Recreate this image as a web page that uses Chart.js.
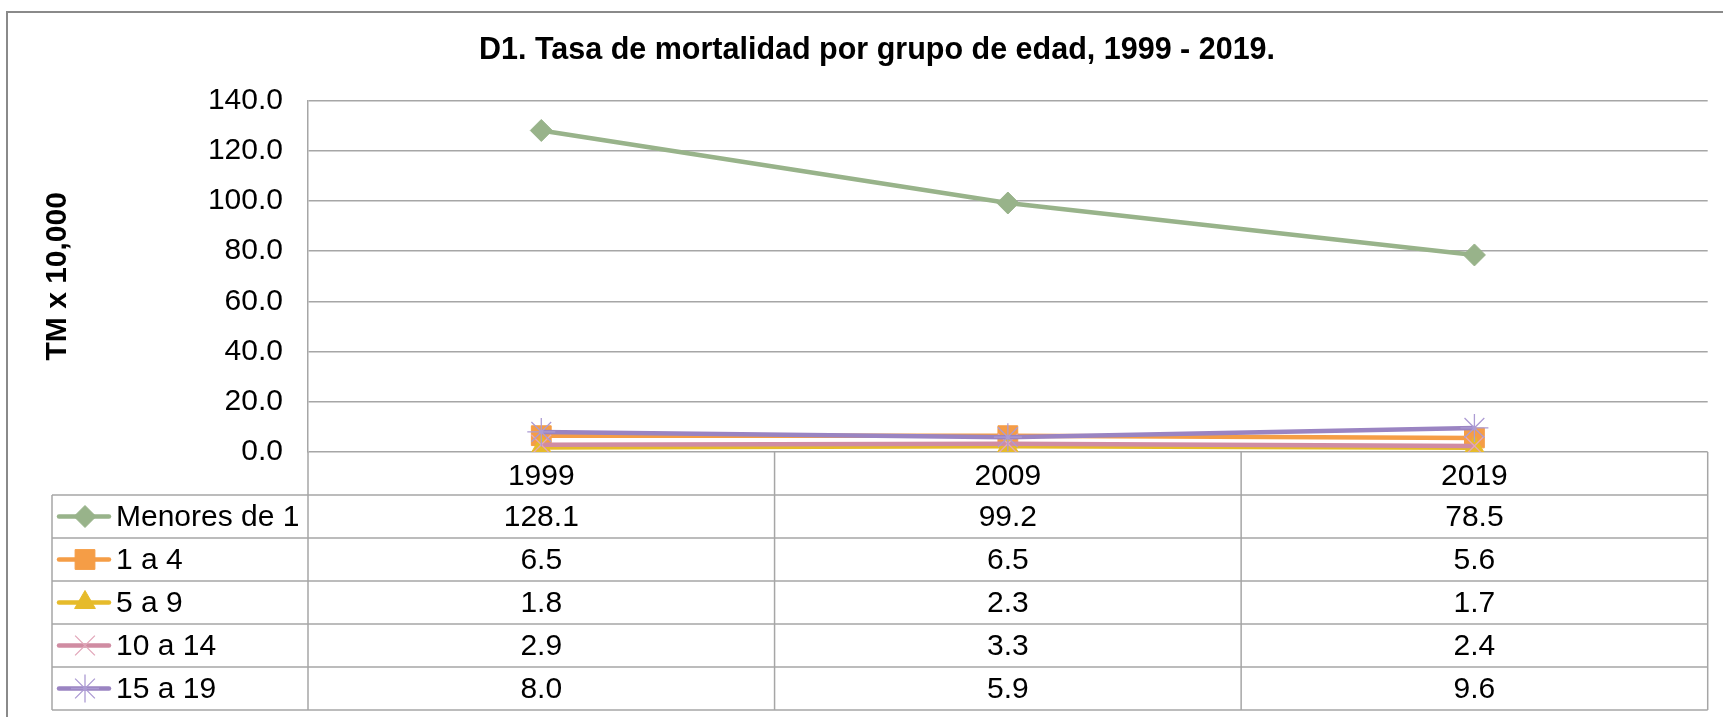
<!DOCTYPE html>
<html lang="es">
<head>
<meta charset="utf-8">
<title>D1. Tasa de mortalidad por grupo de edad, 1999 - 2019.</title>
<script src="https://cdn.jsdelivr.net/npm/chart.js@4.4.1/dist/chart.umd.min.js"></script>
<style>
  html, body { margin: 0; padding: 0; background: #fff; }
  #wrap { width: 1723px; height: 717px; }
</style>
</head>
<body>
<div id="wrap"><canvas id="chart" width="1723" height="717"></canvas></div>
<script>
// Datos
const years = ["1999", "2009", "2019"];
const groupLabels = ["Menores de 1", "1 a 4", "5 a 9", "10 a 14", "15 a 19"];
const menores1 = [128.1, 99.2, 78.5];
const de1a4 = [6.5, 6.5, 5.6];
const de5a9 = [1.8, 2.3, 1.7];
const de10a14 = [2.9, 3.3, 2.4];
const de15a19 = [8.0, 5.9, 9.6];
const yTicks = [0, 20, 40, 60, 80, 100, 120, 140];

// Estilos
const FONT = "'Liberation Sans', Arial, Helvetica, sans-serif";
const seriesValues = [menores1, de1a4, de5a9, de10a14, de15a19];
const lineColors = ["#98b38a", "#f59d46", "#e6bb2b", "#d08ca2", "#9a84c2"];
const markerColors = ["#98b38a", "#f59d46", "#e6bb2b", "#e2a7ba", "#ac9bd3"];
const pointStyles = ["rectRot", "rect", "triangle", "crossRot", "star"];
const pointSizes = [11, 14, 12, 14, 14];
const gridColor = "#a6a6a6";
const ROW_H = 43;
const TABLE_LEFT = 52;

Chart.defaults.font.family = FONT;
Chart.defaults.color = "#000";

// Series
const datasets = groupLabels.map((label, i) => {
  const filled = pointStyles[i] !== "crossRot" && pointStyles[i] !== "star";
  return {
    label: label,
    data: seriesValues[i],
    borderColor: lineColors[i],
    backgroundColor: markerColors[i],
    borderWidth: 4.5,
    pointStyle: pointStyles[i],
    pointRadius: pointSizes[i],
    pointHoverRadius: pointSizes[i],
    pointBackgroundColor: markerColors[i],
    pointBorderColor: markerColors[i],
    pointBorderWidth: filled ? 1 : 1.3,
    tension: 0,
    order: groupLabels.length - i,
  };
});

// Dibuja un marcador de leyenda
function drawMarker(ctx, ds, x, y) {
  ctx.save();
  ctx.fillStyle = ds.pointBackgroundColor;
  ctx.strokeStyle = ds.pointBorderColor;
  ctx.lineWidth = ds.pointBorderWidth;
  if (Chart.helpers && Chart.helpers.drawPoint) {
    Chart.helpers.drawPoint(ctx, {
      pointStyle: ds.pointStyle,
      radius: ds.pointRadius,
      borderWidth: ds.pointBorderWidth,
      rotation: 0,
    }, x, y);
  }
  ctx.restore();
}

// Tabla de datos bajo el eje X
const dataTablePlugin = {
  id: "dataTable",
  afterDraw(chart) {
    const ctx = chart.ctx;
    const area = chart.chartArea;
    const xScale = chart.scales.x;
    const headerBottom = xScale.bottom;
    const tableBottom = headerBottom + ROW_H * groupLabels.length;
    const colW = (area.right - area.left) / years.length;

    ctx.save();

    // marco exterior
    ctx.strokeStyle = "#8a8a8a";
    ctx.lineWidth = 2;
    ctx.beginPath();
    ctx.moveTo(7, chart.height + 2);
    ctx.lineTo(7, 12);
    ctx.lineTo(chart.width + 2, 12);
    ctx.stroke();

    // lineas de la tabla
    ctx.strokeStyle = gridColor;
    ctx.lineWidth = 1.5;
    ctx.beginPath();
    for (let r = 0; r <= groupLabels.length; r++) {
      const y = headerBottom + r * ROW_H;
      ctx.moveTo(TABLE_LEFT, y);
      ctx.lineTo(area.right, y);
    }
    ctx.moveTo(TABLE_LEFT, headerBottom);
    ctx.lineTo(TABLE_LEFT, tableBottom);
    for (let c = 0; c <= years.length; c++) {
      const x = area.left + c * colW;
      ctx.moveTo(x, area.bottom);
      ctx.lineTo(x, tableBottom);
    }
    ctx.stroke();

    // leyenda y valores
    ctx.font = "30px " + FONT;
    ctx.fillStyle = "#000";
    ctx.textBaseline = "middle";
    groupLabels.forEach((label, r) => {
      const ds = chart.data.datasets[r];
      const y = headerBottom + r * ROW_H + ROW_H / 2;

      ctx.save();
      ctx.strokeStyle = ds.borderColor;
      ctx.lineWidth = 4.5;
      ctx.lineCap = "round";
      ctx.beginPath();
      ctx.moveTo(59, y);
      ctx.lineTo(109, y);
      ctx.stroke();
      ctx.restore();
      drawMarker(ctx, ds, 85, y);

      ctx.fillStyle = "#000";
      ctx.textAlign = "left";
      ctx.fillText(label, 116, y + 1);

      ctx.textAlign = "center";
      seriesValues[r].forEach((v, c) => {
        ctx.fillText(v.toFixed(1), xScale.getPixelForValue(c), y + 1);
      });
    });

    ctx.restore();
  },
};

const chart = new Chart(document.getElementById("chart"), {
  type: "line",
  data: {
    labels: years,
    datasets: datasets,
  },
  options: {
    responsive: false,
    animation: false,
    events: [],
    layout: {
      padding: { left: 37, right: 6, top: 0, bottom: ROW_H * groupLabels.length + 7 },
    },
    plugins: {
      legend: { display: false },
      tooltip: { enabled: false },
      title: {
        display: true,
        text: "D1. Tasa de mortalidad por grupo de edad, 1999 - 2019.",
        color: "#000",
        font: { size: 30.5, weight: "bold" },
        padding: { top: 32, bottom: 32 },
      },
    },
    scales: {
      x: {
        offset: true,
        grid: { display: false, drawTicks: false },
        border: { display: false },
        ticks: { padding: 7, font: { size: 30 }, color: "#000" },
        afterFit: (scale) => {
          scale.height = ROW_H;
          scale.paddingLeft = 0;
          scale.paddingRight = 0;
        },
      },
      y: {
        min: yTicks[0],
        max: yTicks[yTicks.length - 1],
        grid: { color: gridColor, lineWidth: 1.5, drawTicks: false },
        border: { display: true, color: gridColor, width: 1.5 },
        ticks: {
          stepSize: yTicks[1] - yTicks[0],
          padding: 25,
          font: { size: 30 },
          color: "#000",
          callback: (value) => Number(value).toFixed(1),
        },
        title: {
          display: true,
          text: "TM x 10,000",
          color: "#000",
          font: { size: 30, weight: "bold" },
          padding: { top: 3, bottom: 0 },
        },
        afterFit: (scale) => {
          scale.width = 271;
        },
      },
    },
  },
  plugins: [dataTablePlugin],
});
</script>
</body>
</html>
